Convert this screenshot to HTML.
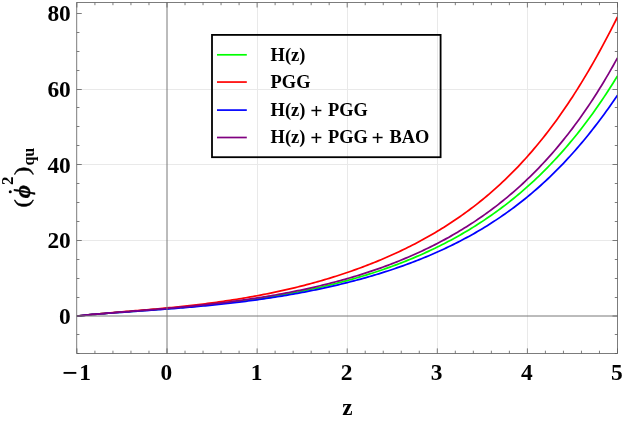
<!DOCTYPE html>
<html><head><meta charset="utf-8"><title>plot</title>
<style>html,body{margin:0;padding:0;background:#fff;}svg{display:block;will-change:transform;}text{font-family:"Liberation Serif",serif;font-weight:bold;fill:#000;}</style></head><body>
<svg width="625" height="425" viewBox="0 0 625 425">
<rect width="625" height="425" fill="#fff"/>
<path d="M257.50 2.5 V353.4 M347.50 2.5 V353.4 M437.50 2.5 V353.4 M527.50 2.5 V353.4 M76.75 240.50 H617.5 M76.75 164.50 H617.5 M76.75 89.50 H617.5" stroke="#e9e9e9" stroke-width="1" fill="none"/>
<clipPath id="c"><rect x="76.75" y="2.5" width="540.75" height="350.9"/></clipPath>
<g clip-path="url(#c)" fill="none" stroke-width="1.75" stroke-linejoin="round">
<polyline points="76.90,316.00 79.15,315.77 81.41,315.54 83.66,315.32 85.91,315.10 88.16,314.89 90.42,314.68 92.67,314.48 94.92,314.28 97.17,314.09 99.43,313.90 101.68,313.71 103.93,313.53 106.18,313.34 108.44,313.16 110.69,312.99 112.94,312.81 115.19,312.63 117.44,312.46 119.70,312.29 121.95,312.12 124.20,311.95 126.46,311.78 128.71,311.61 130.96,311.44 133.21,311.27 135.47,311.10 137.72,310.93 139.97,310.76 142.22,310.59 144.47,310.42 146.73,310.24 148.98,310.07 151.23,309.90 153.49,309.72 155.74,309.55 157.99,309.37 160.24,309.19 162.50,309.01 164.75,308.83 167.00,308.64 169.25,308.46 171.50,308.27 173.76,308.08 176.01,307.89 178.26,307.70 180.52,307.50 182.77,307.30 185.02,307.10 187.27,306.90 189.53,306.69 191.78,306.48 194.03,306.27 196.28,306.06 198.53,305.84 200.79,305.62 203.04,305.39 205.29,305.17 207.55,304.93 209.80,304.70 212.05,304.46 214.30,304.22 216.56,303.98 218.81,303.73 221.06,303.48 223.31,303.22 225.56,302.96 227.82,302.69 230.07,302.42 232.32,302.15 234.57,301.87 236.83,301.59 239.08,301.31 241.33,301.02 243.59,300.72 245.84,300.42 248.09,300.11 250.34,299.80 252.60,299.49 254.85,299.17 257.10,298.84 259.35,298.51 261.61,298.18 263.86,297.84 266.11,297.49 268.36,297.14 270.62,296.78 272.87,296.41 275.12,296.05 277.37,295.67 279.62,295.29 281.88,294.90 284.13,294.51 286.38,294.11 288.63,293.70 290.89,293.29 293.14,292.87 295.39,292.44 297.64,292.01 299.90,291.57 302.15,291.12 304.40,290.66 306.65,290.20 308.91,289.73 311.16,289.26 313.41,288.77 315.67,288.28 317.92,287.78 320.17,287.28 322.42,286.76 324.67,286.24 326.93,285.71 329.18,285.17 331.43,284.63 333.69,284.07 335.94,283.51 338.19,282.93 340.44,282.35 342.69,281.76 344.95,281.16 347.20,280.55 349.45,279.94 351.71,279.31 353.96,278.67 356.21,278.03 358.46,277.37 360.72,276.71 362.97,276.03 365.22,275.34 367.47,274.65 369.73,273.94 371.98,273.22 374.23,272.50 376.48,271.76 378.74,271.01 380.99,270.25 383.24,269.47 385.49,268.69 387.75,267.89 390.00,267.09 392.25,266.27 394.50,265.44 396.75,264.59 399.01,263.73 401.26,262.87 403.51,261.98 405.76,261.09 408.02,260.18 410.27,259.26 412.52,258.33 414.77,257.38 417.03,256.41 419.28,255.44 421.53,254.45 423.78,253.44 426.04,252.42 428.29,251.38 430.54,250.33 432.80,249.27 435.05,248.18 437.30,247.08 439.55,245.97 441.80,244.84 444.06,243.69 446.31,242.53 448.56,241.35 450.81,240.15 453.07,238.93 455.32,237.69 457.57,236.44 459.82,235.17 462.08,233.88 464.33,232.57 466.58,231.24 468.84,229.89 471.09,228.52 473.34,227.13 475.59,225.72 477.84,224.29 480.10,222.83 482.35,221.36 484.60,219.86 486.85,218.34 489.11,216.80 491.36,215.24 493.61,213.65 495.87,212.03 498.12,210.40 500.37,208.73 502.62,207.05 504.88,205.33 507.13,203.60 509.38,201.83 511.63,200.04 513.88,198.22 516.14,196.37 518.39,194.50 520.64,192.59 522.89,190.66 525.15,188.70 527.40,186.70 529.65,184.68 531.90,182.63 534.16,180.54 536.41,178.42 538.66,176.27 540.91,174.09 543.17,171.87 545.42,169.62 547.67,167.33 549.92,165.01 552.18,162.65 554.43,160.26 556.68,157.83 558.93,155.36 561.19,152.85 563.44,150.31 565.69,147.72 567.94,145.09 570.20,142.43 572.45,139.72 574.70,136.97 576.96,134.18 579.21,131.34 581.46,128.47 583.71,125.54 585.97,122.57 588.22,119.56 590.47,116.50 592.72,113.39 594.97,110.23 597.23,107.03 599.48,103.77 601.73,100.47 603.99,97.12 606.24,93.71 608.49,90.25 610.74,86.74 613.00,83.18 615.25,79.56 617.50,75.89" stroke="#00ff00"/>
<polyline points="76.90,316.00 79.15,315.75 81.41,315.50 83.66,315.26 85.91,315.03 88.16,314.80 90.42,314.58 92.67,314.37 94.92,314.16 97.17,313.95 99.43,313.75 101.68,313.55 103.93,313.36 106.18,313.16 108.44,312.97 110.69,312.78 112.94,312.59 115.19,312.41 117.44,312.22 119.70,312.04 121.95,311.85 124.20,311.67 126.46,311.48 128.71,311.30 130.96,311.12 133.21,310.93 135.47,310.74 137.72,310.56 139.97,310.37 142.22,310.18 144.47,309.99 146.73,309.79 148.98,309.60 151.23,309.40 153.49,309.20 155.74,309.00 157.99,308.80 160.24,308.59 162.50,308.38 164.75,308.17 167.00,307.95 169.25,307.74 171.50,307.52 173.76,307.29 176.01,307.06 178.26,306.83 180.52,306.60 182.77,306.36 185.02,306.12 187.27,305.87 189.53,305.62 191.78,305.37 194.03,305.11 196.28,304.84 198.53,304.58 200.79,304.30 203.04,304.03 205.29,303.75 207.55,303.46 209.80,303.17 212.05,302.87 214.30,302.57 216.56,302.26 218.81,301.95 221.06,301.63 223.31,301.31 225.56,300.98 227.82,300.65 230.07,300.31 232.32,299.96 234.57,299.61 236.83,299.25 239.08,298.89 241.33,298.52 243.59,298.14 245.84,297.76 248.09,297.37 250.34,296.97 252.60,296.57 254.85,296.16 257.10,295.74 259.35,295.32 261.61,294.89 263.86,294.45 266.11,294.01 268.36,293.56 270.62,293.10 272.87,292.63 275.12,292.16 277.37,291.68 279.62,291.19 281.88,290.69 284.13,290.19 286.38,289.67 288.63,289.15 290.89,288.62 293.14,288.09 295.39,287.54 297.64,286.99 299.90,286.43 302.15,285.86 304.40,285.28 306.65,284.69 308.91,284.10 311.16,283.49 313.41,282.88 315.67,282.25 317.92,281.62 320.17,280.98 322.42,280.33 324.67,279.67 326.93,279.00 329.18,278.32 331.43,277.63 333.69,276.93 335.94,276.22 338.19,275.50 340.44,274.77 342.69,274.03 344.95,273.28 347.20,272.51 349.45,271.74 351.71,270.96 353.96,270.16 356.21,269.36 358.46,268.54 360.72,267.71 362.97,266.87 365.22,266.02 367.47,265.16 369.73,264.28 371.98,263.39 374.23,262.49 376.48,261.58 378.74,260.65 380.99,259.71 383.24,258.76 385.49,257.79 387.75,256.81 390.00,255.82 392.25,254.81 394.50,253.79 396.75,252.75 399.01,251.70 401.26,250.63 403.51,249.55 405.76,248.46 408.02,247.34 410.27,246.22 412.52,245.07 414.77,243.91 417.03,242.73 419.28,241.54 421.53,240.33 423.78,239.10 426.04,237.85 428.29,236.58 430.54,235.30 432.80,233.99 435.05,232.67 437.30,231.33 439.55,229.97 441.80,228.58 444.06,227.18 446.31,225.75 448.56,224.31 450.81,222.84 453.07,221.35 455.32,219.84 457.57,218.30 459.82,216.74 462.08,215.15 464.33,213.55 466.58,211.91 468.84,210.25 471.09,208.57 473.34,206.86 475.59,205.12 477.84,203.35 480.10,201.56 482.35,199.74 484.60,197.89 486.85,196.01 489.11,194.10 491.36,192.15 493.61,190.18 495.87,188.18 498.12,186.14 500.37,184.07 502.62,181.97 504.88,179.84 507.13,177.67 509.38,175.46 511.63,173.22 513.88,170.94 516.14,168.62 518.39,166.27 520.64,163.88 522.89,161.45 525.15,158.98 527.40,156.47 529.65,153.92 531.90,151.33 534.16,148.69 536.41,146.02 538.66,143.30 540.91,140.53 543.17,137.72 545.42,134.87 547.67,131.97 549.92,129.02 552.18,126.03 554.43,122.99 556.68,119.90 558.93,116.77 561.19,113.58 563.44,110.34 565.69,107.06 567.94,103.72 570.20,100.33 572.45,96.90 574.70,93.40 576.96,89.86 579.21,86.27 581.46,82.62 583.71,78.92 585.97,75.16 588.22,71.35 590.47,67.49 592.72,63.58 594.97,59.61 597.23,55.58 599.48,51.51 601.73,47.38 603.99,43.19 606.24,38.96 608.49,34.67 610.74,30.33 613.00,25.93 615.25,21.49 617.50,17.00" stroke="#ff0000"/>
<polyline points="76.90,316.00 79.15,315.76 81.41,315.53 83.66,315.31 85.91,315.10 88.16,314.89 90.42,314.69 92.67,314.49 94.92,314.30 97.17,314.11 99.43,313.93 101.68,313.75 103.93,313.58 106.18,313.40 108.44,313.23 110.69,313.07 112.94,312.90 115.19,312.74 117.44,312.58 119.70,312.41 121.95,312.26 124.20,312.10 126.46,311.94 128.71,311.78 130.96,311.63 133.21,311.47 135.47,311.31 137.72,311.16 139.97,311.00 142.22,310.84 144.47,310.68 146.73,310.52 148.98,310.36 151.23,310.20 153.49,310.04 155.74,309.88 157.99,309.71 160.24,309.55 162.50,309.38 164.75,309.21 167.00,309.04 169.25,308.87 171.50,308.69 173.76,308.52 176.01,308.34 178.26,308.15 180.52,307.97 182.77,307.78 185.02,307.60 187.27,307.40 189.53,307.21 191.78,307.01 194.03,306.81 196.28,306.61 198.53,306.41 200.79,306.20 203.04,305.99 205.29,305.77 207.55,305.55 209.80,305.33 212.05,305.10 214.30,304.88 216.56,304.64 218.81,304.41 221.06,304.17 223.31,303.92 225.56,303.68 227.82,303.42 230.07,303.17 232.32,302.91 234.57,302.64 236.83,302.38 239.08,302.10 241.33,301.83 243.59,301.55 245.84,301.26 248.09,300.97 250.34,300.67 252.60,300.38 254.85,300.07 257.10,299.76 259.35,299.45 261.61,299.13 263.86,298.80 266.11,298.47 268.36,298.14 270.62,297.80 272.87,297.45 275.12,297.10 277.37,296.75 279.62,296.39 281.88,296.02 284.13,295.65 286.38,295.27 288.63,294.88 290.89,294.49 293.14,294.10 295.39,293.69 297.64,293.28 299.90,292.87 302.15,292.45 304.40,292.02 306.65,291.59 308.91,291.15 311.16,290.70 313.41,290.25 315.67,289.79 317.92,289.32 320.17,288.85 322.42,288.37 324.67,287.88 326.93,287.38 329.18,286.88 331.43,286.37 333.69,285.86 335.94,285.33 338.19,284.80 340.44,284.26 342.69,283.71 344.95,283.16 347.20,282.59 349.45,282.02 351.71,281.44 353.96,280.85 356.21,280.26 358.46,279.65 360.72,279.04 362.97,278.42 365.22,277.79 367.47,277.15 369.73,276.50 371.98,275.84 374.23,275.17 376.48,274.49 378.74,273.81 380.99,273.11 383.24,272.40 385.49,271.69 387.75,270.96 390.00,270.22 392.25,269.47 394.50,268.71 396.75,267.94 399.01,267.16 401.26,266.37 403.51,265.57 405.76,264.76 408.02,263.93 410.27,263.09 412.52,262.24 414.77,261.38 417.03,260.50 419.28,259.62 421.53,258.72 423.78,257.80 426.04,256.88 428.29,255.94 430.54,254.98 432.80,254.01 435.05,253.03 437.30,252.03 439.55,251.02 441.80,250.00 444.06,248.95 446.31,247.90 448.56,246.82 450.81,245.74 453.07,244.63 455.32,243.51 457.57,242.37 459.82,241.21 462.08,240.04 464.33,238.85 466.58,237.64 468.84,236.41 471.09,235.17 473.34,233.90 475.59,232.62 477.84,231.31 480.10,229.99 482.35,228.64 484.60,227.28 486.85,225.89 489.11,224.48 491.36,223.05 493.61,221.60 495.87,220.13 498.12,218.63 500.37,217.11 502.62,215.56 504.88,213.99 507.13,212.40 509.38,210.78 511.63,209.13 513.88,207.46 516.14,205.77 518.39,204.04 520.64,202.29 522.89,200.51 525.15,198.71 527.40,196.87 529.65,195.01 531.90,193.12 534.16,191.19 536.41,189.24 538.66,187.26 540.91,185.24 543.17,183.19 545.42,181.11 547.67,179.00 549.92,176.86 552.18,174.68 554.43,172.47 556.68,170.22 558.93,167.94 561.19,165.62 563.44,163.27 565.69,160.88 567.94,158.46 570.20,156.00 572.45,153.50 574.70,150.97 576.96,148.39 579.21,145.78 581.46,143.13 583.71,140.44 585.97,137.71 588.22,134.94 590.47,132.14 592.72,129.29 594.97,126.40 597.23,123.47 599.48,120.50 601.73,117.50 603.99,114.45 606.24,111.35 608.49,108.22 610.74,105.05 613.00,101.84 615.25,98.58 617.50,95.29" stroke="#0000ff"/>
<polyline points="76.90,316.00 79.15,315.77 81.41,315.54 83.66,315.32 85.91,315.10 88.16,314.89 90.42,314.69 92.67,314.48 94.92,314.28 97.17,314.08 99.43,313.89 101.68,313.70 103.93,313.51 106.18,313.32 108.44,313.14 110.69,312.95 112.94,312.77 115.19,312.59 117.44,312.41 119.70,312.23 121.95,312.05 124.20,311.88 126.46,311.70 128.71,311.52 130.96,311.35 133.21,311.17 135.47,310.99 137.72,310.81 139.97,310.63 142.22,310.45 144.47,310.27 146.73,310.09 148.98,309.91 151.23,309.73 153.49,309.54 155.74,309.36 157.99,309.17 160.24,308.98 162.50,308.79 164.75,308.59 167.00,308.40 169.25,308.20 171.50,308.00 173.76,307.80 176.01,307.60 178.26,307.39 180.52,307.18 182.77,306.97 185.02,306.76 187.27,306.54 189.53,306.32 191.78,306.10 194.03,305.87 196.28,305.65 198.53,305.41 200.79,305.18 203.04,304.94 205.29,304.70 207.55,304.45 209.80,304.20 212.05,303.95 214.30,303.69 216.56,303.43 218.81,303.17 221.06,302.90 223.31,302.62 225.56,302.35 227.82,302.07 230.07,301.78 232.32,301.49 234.57,301.19 236.83,300.89 239.08,300.59 241.33,300.28 243.59,299.97 245.84,299.65 248.09,299.32 250.34,298.99 252.60,298.66 254.85,298.32 257.10,297.97 259.35,297.62 261.61,297.27 263.86,296.90 266.11,296.54 268.36,296.16 270.62,295.78 272.87,295.40 275.12,295.01 277.37,294.61 279.62,294.20 281.88,293.79 284.13,293.38 286.38,292.95 288.63,292.52 290.89,292.08 293.14,291.64 295.39,291.19 297.64,290.73 299.90,290.27 302.15,289.79 304.40,289.31 306.65,288.83 308.91,288.33 311.16,287.83 313.41,287.32 315.67,286.80 317.92,286.27 320.17,285.74 322.42,285.20 324.67,284.65 326.93,284.09 329.18,283.52 331.43,282.94 333.69,282.36 335.94,281.76 338.19,281.16 340.44,280.55 342.69,279.93 344.95,279.30 347.20,278.65 349.45,278.00 351.71,277.34 353.96,276.67 356.21,275.99 358.46,275.30 360.72,274.60 362.97,273.89 365.22,273.17 367.47,272.44 369.73,271.70 371.98,270.94 374.23,270.18 376.48,269.40 378.74,268.61 380.99,267.81 383.24,267.00 385.49,266.17 387.75,265.34 390.00,264.49 392.25,263.63 394.50,262.75 396.75,261.87 399.01,260.97 401.26,260.05 403.51,259.13 405.76,258.18 408.02,257.23 410.27,256.26 412.52,255.28 414.77,254.28 417.03,253.27 419.28,252.24 421.53,251.19 423.78,250.14 426.04,249.06 428.29,247.97 430.54,246.86 432.80,245.74 435.05,244.60 437.30,243.44 439.55,242.27 441.80,241.08 444.06,239.86 446.31,238.64 448.56,237.39 450.81,236.12 453.07,234.84 455.32,233.53 457.57,232.21 459.82,230.87 462.08,229.50 464.33,228.12 466.58,226.71 468.84,225.28 471.09,223.83 473.34,222.36 475.59,220.86 477.84,219.35 480.10,217.81 482.35,216.24 484.60,214.65 486.85,213.04 489.11,211.40 491.36,209.73 493.61,208.04 495.87,206.33 498.12,204.58 500.37,202.81 502.62,201.01 504.88,199.19 507.13,197.33 509.38,195.45 511.63,193.53 513.88,191.58 516.14,189.61 518.39,187.60 520.64,185.56 522.89,183.49 525.15,181.38 527.40,179.24 529.65,177.07 531.90,174.86 534.16,172.61 536.41,170.33 538.66,168.02 540.91,165.66 543.17,163.27 545.42,160.83 547.67,158.36 549.92,155.85 552.18,153.30 554.43,150.70 556.68,148.06 558.93,145.38 561.19,142.66 563.44,139.89 565.69,137.07 567.94,134.21 570.20,131.30 572.45,128.35 574.70,125.34 576.96,122.29 579.21,119.18 581.46,116.02 583.71,112.82 585.97,109.55 588.22,106.24 590.47,102.87 592.72,99.44 594.97,95.96 597.23,92.42 599.48,88.82 601.73,85.17 603.99,81.45 606.24,77.67 608.49,73.83 610.74,69.93 613.00,65.96 615.25,61.92 617.50,57.83" stroke="#800080"/>
</g>
<path d="M167.00 2.5 V353.4 M76.75 316.00 H617.5" stroke="#787878" stroke-width="1" fill="none"/>
<path d="M76.90 353.4 v-5.0 M76.90 2.5 v5.0 M94.92 353.4 v-2.7 M94.92 2.5 v2.7 M112.94 353.4 v-2.7 M112.94 2.5 v2.7 M130.96 353.4 v-2.7 M130.96 2.5 v2.7 M148.98 353.4 v-2.7 M148.98 2.5 v2.7 M167.00 353.4 v-5.0 M167.00 2.5 v5.0 M185.02 353.4 v-2.7 M185.02 2.5 v2.7 M203.04 353.4 v-2.7 M203.04 2.5 v2.7 M221.06 353.4 v-2.7 M221.06 2.5 v2.7 M239.08 353.4 v-2.7 M239.08 2.5 v2.7 M257.10 353.4 v-5.0 M257.10 2.5 v5.0 M275.12 353.4 v-2.7 M275.12 2.5 v2.7 M293.14 353.4 v-2.7 M293.14 2.5 v2.7 M311.16 353.4 v-2.7 M311.16 2.5 v2.7 M329.18 353.4 v-2.7 M329.18 2.5 v2.7 M347.20 353.4 v-5.0 M347.20 2.5 v5.0 M365.22 353.4 v-2.7 M365.22 2.5 v2.7 M383.24 353.4 v-2.7 M383.24 2.5 v2.7 M401.26 353.4 v-2.7 M401.26 2.5 v2.7 M419.28 353.4 v-2.7 M419.28 2.5 v2.7 M437.30 353.4 v-5.0 M437.30 2.5 v5.0 M455.32 353.4 v-2.7 M455.32 2.5 v2.7 M473.34 353.4 v-2.7 M473.34 2.5 v2.7 M491.36 353.4 v-2.7 M491.36 2.5 v2.7 M509.38 353.4 v-2.7 M509.38 2.5 v2.7 M527.40 353.4 v-5.0 M527.40 2.5 v5.0 M545.42 353.4 v-2.7 M545.42 2.5 v2.7 M563.44 353.4 v-2.7 M563.44 2.5 v2.7 M581.46 353.4 v-2.7 M581.46 2.5 v2.7 M599.48 353.4 v-2.7 M599.48 2.5 v2.7 M617.50 353.4 v-5.0 M617.50 2.5 v5.0 M76.75 353.50 h2.7 M617.5 353.50 h-2.7 M76.75 334.50 h2.7 M617.5 334.50 h-2.7 M76.75 316.00 h5.0 M617.5 316.00 h-5.0 M76.75 297.50 h2.7 M617.5 297.50 h-2.7 M76.75 278.50 h2.7 M617.5 278.50 h-2.7 M76.75 259.50 h2.7 M617.5 259.50 h-2.7 M76.75 240.50 h5.0 M617.5 240.50 h-5.0 M76.75 221.50 h2.7 M617.5 221.50 h-2.7 M76.75 202.50 h2.7 M617.5 202.50 h-2.7 M76.75 183.50 h2.7 M617.5 183.50 h-2.7 M76.75 164.50 h5.0 M617.5 164.50 h-5.0 M76.75 145.50 h2.7 M617.5 145.50 h-2.7 M76.75 126.50 h2.7 M617.5 126.50 h-2.7 M76.75 107.50 h2.7 M617.5 107.50 h-2.7 M76.75 89.50 h5.0 M617.5 89.50 h-5.0 M76.75 70.50 h2.7 M617.5 70.50 h-2.7 M76.75 51.50 h2.7 M617.5 51.50 h-2.7 M76.75 32.50 h2.7 M617.5 32.50 h-2.7 M76.75 13.50 h5.0 M617.5 13.50 h-5.0" stroke="#5c5c5c" stroke-width="0.8" fill="none"/>
<rect x="76.75" y="2.5" width="540.75" height="350.9" stroke="#5c5c5c" stroke-width="0.8" fill="none"/>
<text transform="translate(166.40,380.20) scale(1,1.03)" font-size="23.4" text-anchor="middle">0</text>
<text transform="translate(256.50,380.20) scale(1,1.03)" font-size="23.4" text-anchor="middle">1</text>
<text transform="translate(346.60,380.20) scale(1,1.03)" font-size="23.4" text-anchor="middle">2</text>
<text transform="translate(436.70,380.20) scale(1,1.03)" font-size="23.4" text-anchor="middle">3</text>
<text transform="translate(526.80,380.20) scale(1,1.03)" font-size="23.4" text-anchor="middle">4</text>
<text transform="translate(616.90,380.20) scale(1,1.03)" font-size="23.4" text-anchor="middle">5</text>
<text x="70.05" y="382.4" font-size="27.5" text-anchor="middle">−</text>
<text transform="translate(79.30,380.20) scale(1,1.03)" font-size="23.4" text-anchor="start">1</text>
<text transform="translate(70.80,324.00) scale(1,1.03)" font-size="23.4" text-anchor="end">0</text>
<text transform="translate(70.80,248.36) scale(1,1.03)" font-size="23.4" text-anchor="end">20</text>
<text transform="translate(70.80,172.72) scale(1,1.03)" font-size="23.4" text-anchor="end">40</text>
<text transform="translate(70.80,97.08) scale(1,1.03)" font-size="23.4" text-anchor="end">60</text>
<text transform="translate(70.80,21.44) scale(1,1.03)" font-size="23.4" text-anchor="end">80</text>
<text x="347.4" y="415.3" font-size="23.2" text-anchor="middle">z</text>
<g transform="rotate(-90)">
<text transform="translate(-207.4,29.0) scale(1.15,1)" font-size="21.6" style="font-weight:normal" stroke="#000" stroke-width="0.45">(</text>
<text x="-198.26" y="29.5" font-size="23" font-style="italic" stroke="#000" stroke-width="0.45">ϕ</text>
<text x="-184.9" y="13.1" font-size="17">2</text>
<text transform="translate(-175.1,29.0) scale(1.15,1)" font-size="21.6" style="font-weight:normal" stroke="#000" stroke-width="0.45">)</text>
<text x="-165.6" y="33.9" font-size="16">qu</text>
</g>
<circle cx="10.25" cy="191.8" r="1.5" fill="#000"/>
<rect x="212" y="34.9" width="228.6" height="122.3" fill="none" stroke="#000" stroke-width="1.8"/>
<path d="M217 54.8 H246.8" stroke="#00ff00" stroke-width="1.7" fill="none"/>
<path d="M217 82.05 H246.8" stroke="#ff0000" stroke-width="1.7" fill="none"/>
<path d="M217 110.1 H246.8" stroke="#0000ff" stroke-width="1.7" fill="none"/>
<path d="M217 137.5 H246.8" stroke="#800080" stroke-width="1.7" fill="none"/>
<text x="270.6" y="60.5" font-size="18.4">H(z)</text>
<text x="270.6" y="87.75" font-size="18.4">PGG</text>
<text x="270.6" y="115.8" font-size="18.4">H(z)</text>
<text x="316.3" y="118.00" font-size="21.5" text-anchor="middle">+</text>
<text x="328.0" y="115.8" font-size="18.4">PGG</text>
<text x="270.6" y="143.2" font-size="18.4">H(z)</text>
<text x="316.3" y="145.40" font-size="21.5" text-anchor="middle">+</text>
<text x="328.0" y="143.2" font-size="18.4">PGG</text>
<text x="377.6" y="145.40" font-size="21.5" text-anchor="middle">+</text>
<text x="389.5" y="143.2" font-size="18.4">BAO</text>
</svg></body></html>
